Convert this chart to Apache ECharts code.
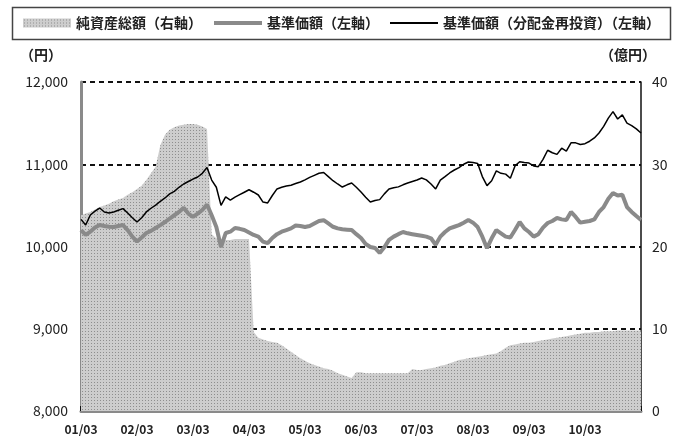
<!DOCTYPE html>
<html>
<head>
<meta charset="utf-8">
<script src="https://cdn.jsdelivr.net/npm/echarts@6/dist/echarts.min.js"></script>
<style>
html,body{margin:0;padding:0;background:#fff;}
#chart{width:676px;height:443px;}
</style>
</head>
<body>
<div id="chart"></div>
<script>
// Tick labels of the time axis (one per year, month 03)
const tickLabels = ['01/03','02/03','03/03','04/03','05/03','06/03','07/03','08/03','09/03','10/03'];
// Monthly categories 2001/03 .. 2011/03
const startYear = 2001, startMonth = 3, monthCount = 121;
const categories = [];
for (let k = 0; k < monthCount; k++) {
  const m = (startMonth - 1 + k) % 12 + 1;
  const y = startYear + Math.floor((startMonth - 1 + k) / 12);
  categories.push(String(y % 100).padStart(2, '0') + '/' + String(m).padStart(2, '0'));
}

// 純資産総額 (億円, right axis)
const netAssets = [
  23.8,24.0,24.2,24.5,24.8,25.0,25.2,25.5,25.7,25.9,26.3,26.6,
  27.0,27.4,28.1,28.9,29.7,32.3,33.6,34.2,34.5,34.7,34.8,34.9,
  34.9,34.8,34.6,34.3,21.5,21.0,20.8,20.8,20.8,20.9,20.9,20.9,
  20.9,9.6,8.9,8.7,8.5,8.4,8.3,8.0,7.6,7.2,6.8,6.4,
  6.1,5.8,5.6,5.4,5.2,5.1,4.9,4.6,4.4,4.2,4.0,4.7,
  4.7,4.6,4.6,4.6,4.6,4.6,4.6,4.6,4.6,4.6,4.6,5.1,
  5.0,5.0,5.1,5.2,5.3,5.5,5.6,5.8,6.0,6.2,6.3,6.4,
  6.5,6.6,6.7,6.8,6.9,7.0,7.3,7.7,8.0,8.1,8.2,8.3,
  8.3,8.4,8.5,8.6,8.7,8.8,8.9,9.0,9.1,9.2,9.3,9.4,
  9.5,9.5,9.6,9.6,9.7,9.7,9.7,9.8,9.8,9.8,9.8,9.8,
  9.8
];

// 基準価額 (円, left axis)
const navPrice = [
  10200,10140,10180,10230,10261,10250,10240,10237,10250,10261,10200,10120,
  10060,10110,10164,10190,10225,10260,10298,10340,10380,10420,10470,10400,
  10360,10400,10444,10510,10380,10237,9994,10164,10180,10225,10215,10200,
  10170,10140,10120,10060,10040,10103,10150,10180,10200,10220,10255,10250,
  10237,10250,10280,10310,10320,10280,10240,10220,10210,10205,10200,10150,
  10103,10030,9994,9982,9921,9990,10080,10120,10150,10176,10160,10150,
  10140,10130,10120,10100,10020,10120,10176,10220,10240,10260,10290,10322,
  10290,10237,10120,9980,10100,10200,10160,10120,10110,10200,10298,10220,
  10176,10120,10150,10230,10286,10310,10346,10330,10322,10420,10360,10290,
  10300,10310,10330,10420,10480,10580,10650,10620,10630,10480,10420,10370,
  10322
];

// 基準価額(分配金再投資) (円, left axis)
const navReinvested = [
  10330,10261,10383,10430,10468,10420,10407,10420,10440,10460,10407,10350,
  10298,10350,10420,10465,10504,10550,10590,10640,10670,10720,10760,10790,
  10820,10845,10890,10960,10808,10720,10500,10602,10565,10600,10630,10660,
  10690,10660,10626,10540,10530,10620,10700,10720,10735,10745,10765,10784,
  10810,10840,10865,10890,10900,10850,10800,10760,10723,10750,10772,10720,
  10663,10600,10541,10560,10570,10640,10700,10715,10725,10750,10772,10790,
  10808,10833,10810,10760,10700,10808,10850,10894,10930,10960,11000,11027,
  11020,11010,10850,10740,10800,10920,10890,10880,10830,10980,11030,11020,
  11015,10980,10970,11060,11170,11140,11120,11195,11160,11260,11260,11240,
  11250,11280,11320,11380,11460,11560,11640,11550,11600,11500,11470,11430,
  11380
];

const seriesNames = ['純資産総額（右軸）','基準価額（左軸）','基準価額（分配金再投資）（左軸）'];

// dotted gray pattern for the area
const pc = document.createElement('canvas');
pc.width = 3; pc.height = 3;
const pctx = pc.getContext('2d');
pctx.fillStyle = '#cdcdcd'; pctx.fillRect(0,0,3,3);
pctx.fillStyle = '#8e8e8e'; pctx.fillRect(1,1,1,1);
const areaPattern = {image: pc, repeat: 'repeat'};

const FONT = '"Noto Sans CJK JP", "Noto Sans", sans-serif';
const chart = echarts.init(document.getElementById('chart'), null, {renderer:'canvas'});
const showYear = (idx) => idx % 12 === 0 && idx < 120;
const hiddenSymbol = {color: 'rgba(0,0,0,0)', borderColor: 'rgba(0,0,0,0)', borderWidth: 0};

chart.setOption({
  animation: false,
  backgroundColor: '#fff',
  textStyle: {fontFamily: FONT},
  grid: {left: 81, right: 35, top: 82, bottom: 32},
  graphic: [
    {type:'rect', left: 10, top: 5, shape:{width:658, height:32}, style:{fill:'none', stroke:'#444', lineWidth:1.5}, z:-1},
    {type:'text', left: 20, top: 48, style:{text:'（円）', font:'bold 14px ' + FONT, fill:'#222'}},
    {type:'text', left: 600, top: 48, style:{text:'（億円）', font:'bold 14px ' + FONT, fill:'#222'}}
  ],
  legend: {
    left: 18, top: 11,
    itemWidth: 48, itemHeight: 9, itemGap: 10,
    textStyle: {fontSize: 14, fontWeight: 'bold', color: '#222', fontFamily: FONT},
    data: [
      {name: seriesNames[0], icon: 'rect', itemStyle: {color: areaPattern}},
      {name: seriesNames[1], itemStyle: hiddenSymbol, lineStyle: {width: 4, color: '#8a8a8a'}},
      {name: seriesNames[2], itemStyle: hiddenSymbol, lineStyle: {width: 2, color: '#000'}}
    ]
  },
  xAxis: {
    type: 'category', data: categories, boundaryGap: false,
    axisLine: {lineStyle: {color: '#8a8a8a', width: 3}},
    axisTick: {show: true, inside: true, length: 5, interval: (i) => i % 12 === 0, lineStyle:{color:'#111', width:2}},
    axisLabel: {interval: (i, v) => showYear(i), formatter: (v, i) => tickLabels[i / 12] || '', color:'#222', fontSize: 12, fontWeight:'bold', margin: 12, fontFamily: FONT},
    splitLine: {show: false}
  },
  yAxis: [
    {
      type: 'value', min: 8000, max: 12000, interval: 1000,
      axisLine: {show: true, lineStyle: {color: '#8a8a8a', width: 3}},
      axisTick: {show: false},
      axisLabel: {formatter: (v) => v.toLocaleString('en-US'), color:'#222', fontSize: 14, margin: 13, fontFamily: FONT},
      splitLine: {show: true, lineStyle: {color: '#111', width: 2, type: [5, 4]}}
    },
    {
      type: 'value', min: 0, max: 40, interval: 10, position: 'right',
      axisLine: {show: true, lineStyle: {color: '#111', width: 1.5}},
      axisTick: {show: false},
      axisLabel: {color:'#222', fontSize: 14, margin: 11, fontFamily: FONT},
      splitLine: {show: false}
    }
  ],
  series: [
    {
      name: seriesNames[0], type: 'line', yAxisIndex: 1, data: netAssets,
      symbol: 'none', lineStyle: {width: 0, color: '#bcbcbc'},
      itemStyle: {color: '#bcbcbc'},
      areaStyle: {color: areaPattern, opacity: 1}
    },
    {
      name: seriesNames[1], type: 'line', yAxisIndex: 0, data: navPrice,
      symbol: 'none', lineStyle: {width: 4, color: '#8a8a8a'}, itemStyle: {color: '#8a8a8a'}
    },
    {
      name: seriesNames[2], type: 'line', yAxisIndex: 0, data: navReinvested,
      symbol: 'none', lineStyle: {width: 1.5, color: '#000'}, itemStyle: {color: '#000'}
    }
  ]
});
</script>
</body>
</html>
